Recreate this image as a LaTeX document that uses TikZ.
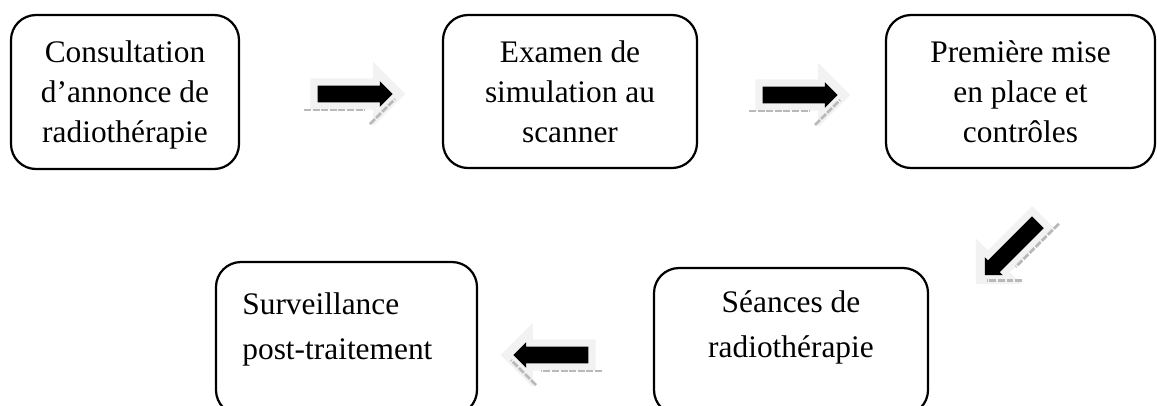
\documentclass[tikz,border=0pt]{standalone}
\usepackage{fontspec}
\setmainfont{Liberation Serif}
\usetikzlibrary{positioning}
\usetikzlibrary{shapes.arrows}

\newcommand{\pix}{0.36pt}

\tikzset{
	stepbox/.style={draw, line width=0.8pt, rounded corners=9pt, inner sep=0pt},
	steptext/.style={inner sep=0pt, align=center, font=\fontsize{11.3}{14.4}\selectfont},
	arrowback/.style={single arrow, fill=gray!10, inner xsep=0pt, inner ysep=5.4pt, minimum height=34.2pt, single arrow head extend=6pt},
	arrowfront/.style={single arrow, fill=black, inner xsep=0pt, inner ysep=2.8pt, minimum height=27pt, single arrow head extend=1.6pt},
	arrowstrip/.style={draw=gray!55, line width=1pt, dash pattern=on 2.5pt off 0.6pt}
}

% name, centre, angle, mirror
\newcommand{\flowarrow}[4]{%
	\begin{scope}[shift={(#2)}, rotate=#3, yscale=#4, transform shape]
		\node[arrowback] (#1) at (0,0) {};
		\draw[arrowstrip] (-46,16) -- (15,16);
		\draw[arrowstrip] (20,30) -- (45,5);
		\node[arrowfront] (#1-f) at (1,0) {};
	\end{scope}}

\begin{document}
\begin{tikzpicture}[x=\pix, y=-\pix]
				\useasboundingbox (0,0) rectangle (1157,405);
				\clip (0,0) rectangle (1157,405);
				
				\node[stepbox, minimum width=228*\pix, minimum height=154*\pix] (consult) at (125,92) {};
				\node[stepbox, minimum width=254*\pix, minimum height=153*\pix] (examen) at (570,91.5) {};
				\node[stepbox, minimum width=269*\pix, minimum height=153*\pix] (premiere) at (1020.5,91.5) {};
				\node[stepbox, minimum width=274*\pix, minimum height=147*\pix] (seances) at (791,341.5) {};
				\node[stepbox, minimum width=261*\pix, minimum height=153*\pix] (surv) at (346.5,338.5) {};
				
				\node[steptext, below=9.6pt of consult.north] (consult-t) {Consultation\\d'annonce de\\radiothérapie};
				\node[steptext, below=9.6pt of examen.north] (examen-t) {Examen de\\simulation au\\scanner};
				\node[steptext, below=9.6pt of premiere.north] (premiere-t) {Première mise\\en place et\\contrôles};
				\node[steptext, font=\fontsize{11.3}{16.2}\selectfont, below=8.5pt of seances.north] (seances-t) {Séances de\\radiothérapie};
				\node[steptext, align=left, font=\fontsize{11.3}{16.2}\selectfont, below right=11.4pt and 9.7pt of surv.north west] (surv-t) {Surveillance\\post-traitement};
				
				\flowarrow{a1}{350,94}{0}{1}
				\flowarrow{a2}{795,95}{0}{1}
				\flowarrow{a3}{1015,245}{225}{-1}
				\flowarrow{a4}{556,355}{180}{-1}
\end{tikzpicture}
\end{document}
